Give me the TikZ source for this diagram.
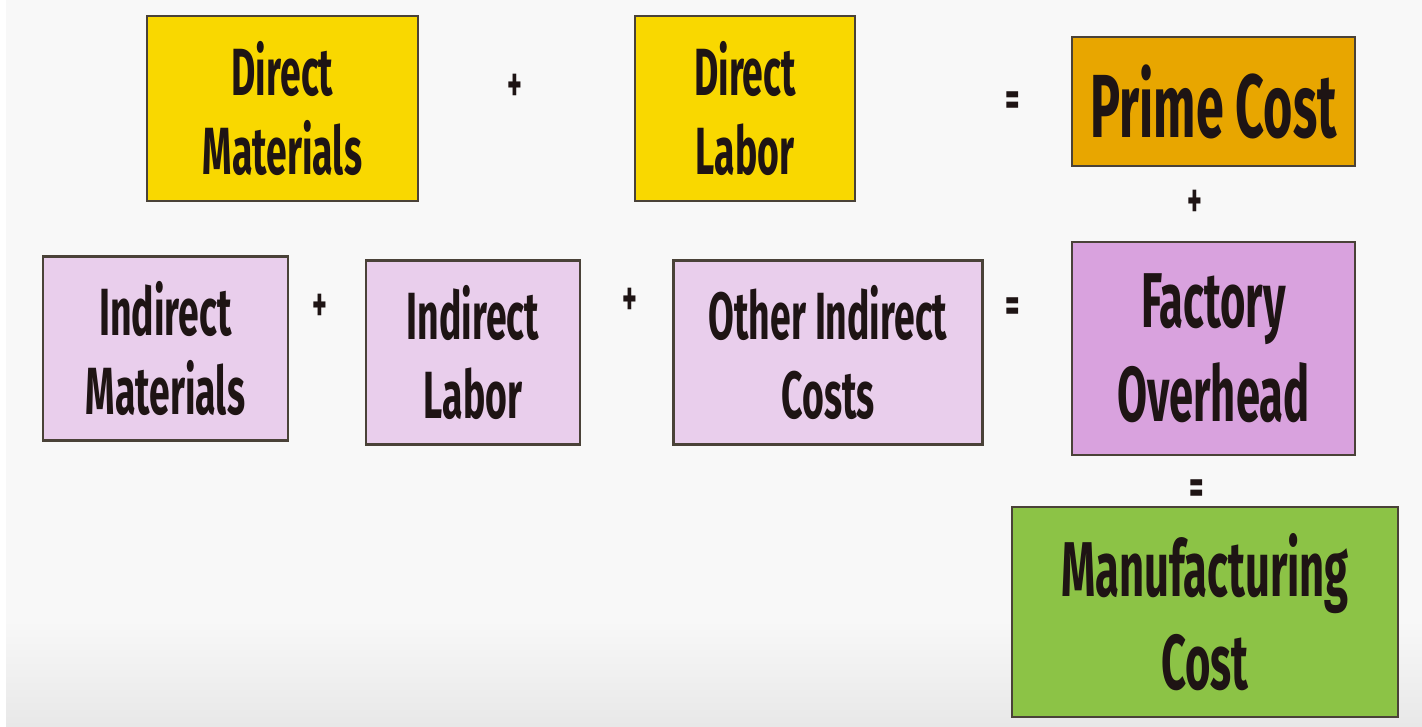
\documentclass[tikz,border=0pt]{standalone}
\usepackage{fontspec}
\usepackage{xcolor}
\usetikzlibrary{positioning, calc}
\newfontfamily\boxfont{Fira Sans}[FakeStretch=0.56]

\definecolor{dmyellow}{HTML}{F9D800}
\definecolor{pcorange}{HTML}{E8A600}
\definecolor{ililac}{HTML}{E9CEEC}
\definecolor{fopurple}{HTML}{D9A2DE}
\definecolor{mcgreen}{HTML}{8CC346}
\definecolor{boxline}{HTML}{4A4238}
\definecolor{inktext}{HTML}{1E1414}
\definecolor{bglight}{HTML}{F8F8F8}
\definecolor{bgdark}{HTML}{E8E8E8}

\begin{document}
\begin{tikzpicture}[x=1bp, y=-1bp,
    % Box styles
    costbox/.style={draw=boxline, line width=2.5bp, align=center, inner sep=0pt, text=inktext},
    smalltext/.style={font=\boxfont\bfseries\fontsize{67}{80}\selectfont},
    bigtext/.style={font=\boxfont\bfseries\fontsize{78}{94}\selectfont},
    directbox/.style={costbox, smalltext, fill=dmyellow, minimum height=185bp},
    indirectbox/.style={costbox, smalltext, fill=ililac, minimum height=184bp},
    primebox/.style={costbox, font=\boxfont\bfseries\fontsize{90}{100}\selectfont, fill=pcorange},
    overheadbox/.style={costbox, bigtext, fill=fopurple},
    mfgbox/.style={costbox, bigtext, fill=mcgreen},
    % Operator signs
    op/.style={font=\boxfont\bfseries\fontsize{50}{50}\selectfont, text=inktext, inner sep=0pt}
]

% Background
\fill[white] (0,0) rectangle (1422,726);
\fill[bglight] (6,0) rectangle (1422,726);
\shade[top color=bglight, bottom color=bgdark] (6,620) rectangle (1422,726);
\useasboundingbox (0,0) rectangle (1422,726);

% Prime cost row
\node[directbox, minimum width=271bp] (dir_mat) at (282.5,108.5) {Direct\\Materials};
\node[directbox, minimum width=220bp] (dir_lab) at (745,108.5) {Direct\\Labor};
\node[primebox, minimum width=283bp, minimum height=129bp] (prime) at (1213.5,101.5) {Prime Cost};
\node[op] (plus_dm) at (515,88) {+};
\node[op] (eq_prime) at (1013,104) {=};

% Overhead row
\node[indirectbox, minimum width=245bp] (ind_mat) at (165.5,348.5) {Indirect\\Materials};
\node[indirectbox, minimum width=214bp] (ind_lab) at (473,352.5) {Indirect\\Labor};
\node[indirectbox, minimum width=309bp] (oth_ind) at (828,352.5) {Other Indirect\\Costs};
\node[overheadbox, minimum width=283bp, minimum height=213bp] (overhead) at (1213.5,348.5) {Factory\\Overhead};
\node[op] (plus_im) at (320,308) {+};
\node[op] (plus_il) at (630,302) {+};
\node[op] (eq_oh) at (1013,310) {=};

% Total
\node[op] (plus_pc) at (1195,204) {+};
\node[mfgbox, minimum width=386bp, minimum height=210bp] (mfg) at (1205,612) {Manufacturing\\Cost};
\node[op] (eq_mfg) at (1197,492) {=};

\end{tikzpicture}
\end{document}
